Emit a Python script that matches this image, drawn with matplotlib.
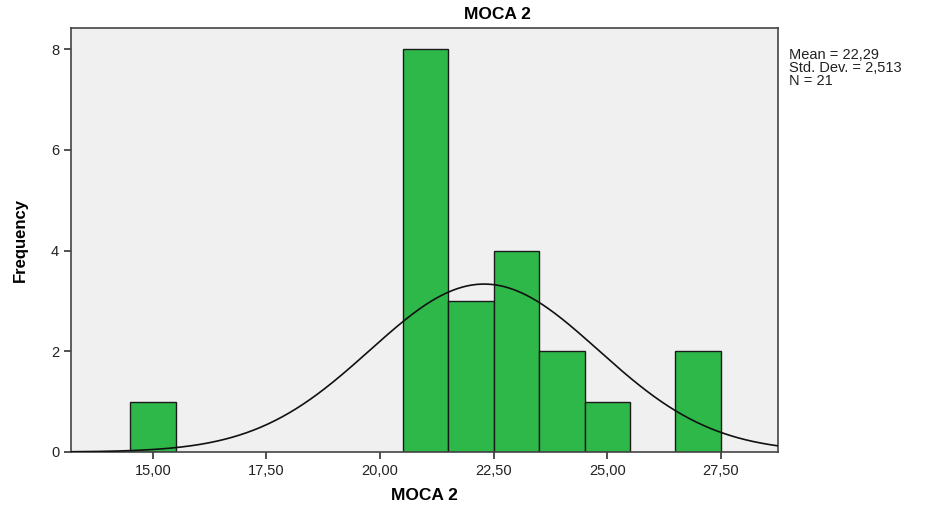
import numpy as np
import matplotlib
matplotlib.use("Agg")
import matplotlib.pyplot as plt

plt.rcParams['font.family'] = ['Liberation Sans', 'DejaVu Sans']

bin_centers = [15, 21, 22, 23, 24, 25, 27]
frequencies = [1, 8, 3, 4, 2, 1, 2]
x_ticks = [15.0, 17.5, 20.0, 22.5, 25.0, 27.5]
x_tick_labels = ['15,00', '17,50', '20,00', '22,50', '25,00', '27,50']
y_ticks = [0, 2, 4, 6, 8]
mean = 22.29
std_dev = 2.513
n = 21


def main():
    fig = plt.figure(figsize=(9.36, 5.07), dpi=100)
    ax = fig.add_axes([0.0759, 0.1085, 0.755, 0.8365])
    ax.set_facecolor('#f0f0f0')

    ax.bar(bin_centers, frequencies, width=1.0, color='#2fb84a',
           edgecolor='#1a1a1a', linewidth=1.0, zorder=2)

    # fitted normal curve, scaled to counts (bin width 1)
    xs = np.linspace(13.2, 28.75, 400)
    ys = n * np.exp(-0.5 * ((xs - mean) / std_dev) ** 2) / (std_dev * np.sqrt(2 * np.pi))
    ax.plot(xs, ys, color='#111111', linewidth=1.2, zorder=3)

    ax.set_xlim(13.2, 28.75)
    ax.set_ylim(0, 8.42)
    ax.set_xticks(x_ticks)
    ax.set_xticklabels(x_tick_labels)
    ax.set_yticks(y_ticks)
    ax.tick_params(direction='out', length=5, width=1.2, labelsize=10.5,
                   colors='#333333', labelcolor='#222222')
    for s in ax.spines.values():
        s.set_color('#444444')
        s.set_linewidth(1.2)

    ax.set_xlabel('MOCA 2', fontsize=12.5, fontweight='bold', labelpad=7)
    ax.set_ylabel('Frequency', fontsize=12, fontweight='bold', labelpad=17)
    fig.text(0.531, 0.972, 'MOCA 2', ha='center', va='center',
             fontsize=12.5, fontweight='bold')

    fig.text(0.843, 0.905, 'Mean = 22,29\nStd. Dev. = 2,513\nN = 21',
             ha='left', va='top', fontsize=10.5, linespacing=0.9, color='#222222')

    fig.savefig('out.png', dpi=100)


if __name__ == "__main__":
    main()
